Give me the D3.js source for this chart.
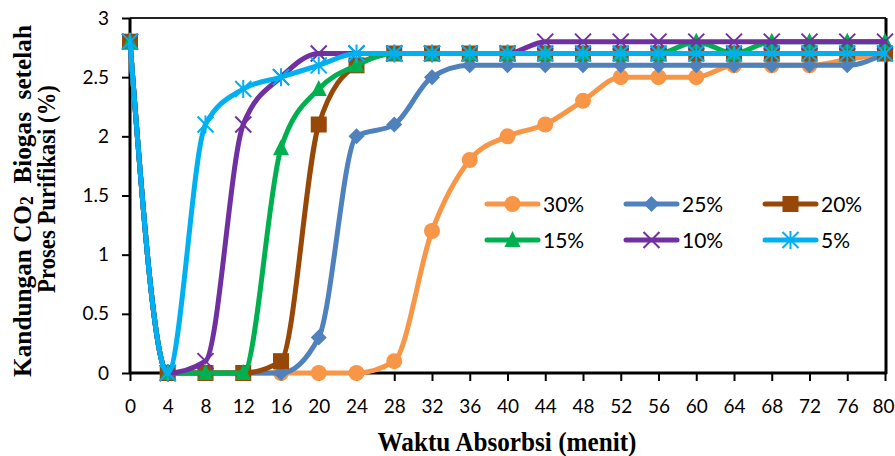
<!DOCTYPE html>
<html>
<head>
<meta charset="utf-8">
<script src="https://cdn.jsdelivr.net/npm/d3@7"></script>
<style>
  body { margin: 0; background: #fff; }
  .tick text { font-family: Lato, "Open Sans", sans-serif; font-size: 19px; fill: #000; }
</style>
</head>
<body>
<div id="chart"></div>
<script>
// time in minutes
const minutes = [0, 4, 8, 12, 16, 20, 24, 28, 32, 36, 40, 44, 48, 52, 56, 60, 64, 68, 72, 76, 80];

// CO2 content (%) per concentration
const co2_30 = [2.8, 0, 0, 0, 0, 0, 0, 0.1, 1.2, 1.8, 2.0, 2.1, 2.3, 2.5, 2.5, 2.5, 2.6, 2.6, 2.6, 2.65, 2.7];
const co2_25 = [2.8, 0, 0, 0, 0, 0.3, 2.0, 2.1, 2.5, 2.6, 2.6, 2.6, 2.6, 2.6, 2.6, 2.6, 2.6, 2.6, 2.6, 2.6, 2.7];
const co2_20 = [2.8, 0, 0, 0, 0.1, 2.1, 2.6, 2.7, 2.7, 2.7, 2.7, 2.7, 2.7, 2.7, 2.7, 2.7, 2.7, 2.7, 2.7, 2.7, 2.7];
const co2_15 = [2.8, 0, 0, 0, 1.9, 2.4, 2.6, 2.7, 2.7, 2.7, 2.7, 2.7, 2.7, 2.7, 2.7, 2.8, 2.7, 2.8, 2.8, 2.8, 2.8];
const co2_10 = [2.8, 0, 0.1, 2.1, 2.5, 2.7, 2.7, 2.7, 2.7, 2.7, 2.7, 2.8, 2.8, 2.8, 2.8, 2.8, 2.8, 2.8, 2.8, 2.8, 2.8];
const co2_5  = [2.8, 0, 2.1, 2.4, 2.5, 2.6, 2.7, 2.7, 2.7, 2.7, 2.7, 2.7, 2.7, 2.7, 2.7, 2.7, 2.7, 2.7, 2.7, 2.7, 2.7];

const seriesNames = ["30%", "25%", "20%", "15%", "10%", "5%"];
const yTicks = [0, 0.5, 1, 1.5, 2, 2.5, 3];

const series = [
  { name: seriesNames[0], values: co2_30, color: "#F79646", marker: "circle" },
  { name: seriesNames[1], values: co2_25, color: "#4F81BD", marker: "diamond" },
  { name: seriesNames[2], values: co2_20, color: "#974706", marker: "square" },
  { name: seriesNames[3], values: co2_15, color: "#00B050", marker: "triangle" },
  { name: seriesNames[4], values: co2_10, color: "#7030A0", marker: "x" },
  { name: seriesNames[5], values: co2_5,  color: "#00B0F0", marker: "star" }
];

const W = 895, H = 456;
const svg = d3.select("#chart").append("svg")
    .attr("width", W)
    .attr("height", H);

const x = d3.scaleLinear().domain([0, 80]).range([130, 885]);
const y = d3.scaleLinear().domain([0, 3]).range([373, 18]);

// frame
svg.append("line").attr("x1", 130).attr("x2", 886).attr("y1", 18).attr("y2", 18)
    .attr("stroke", "#222").attr("stroke-width", 2);
svg.append("line").attr("x1", 886).attr("x2", 886).attr("y1", 18).attr("y2", 374)
    .attr("stroke", "#000").attr("stroke-width", 3);

// axes
const xAxis = svg.append("g")
    .attr("transform", `translate(0,${y(0)})`)
    .call(d3.axisBottom(x).tickValues(minutes).tickSize(8).tickPadding(19).tickFormat(d3.format("d")));
const yAxis = svg.append("g")
    .attr("transform", `translate(${x(0)},0)`)
    .call(d3.axisLeft(y).tickValues(yTicks).tickSize(8).tickPadding(13).tickFormat(d => d));
[xAxis, yAxis].forEach(a => {
  a.select(".domain").attr("stroke", "#000").attr("stroke-width", 3);
  a.selectAll(".tick line").attr("stroke", "#000").attr("stroke-width", 2);
});
xAxis.select(".domain").attr("d", `M${x(0) - 1},0H${x(80) + 2}`);
yAxis.select(".domain").attr("d", `M0,${y(0) + 1}V${y(3)}`);
// last label sits against the right edge
xAxis.selectAll(".tick text").filter(d => d === 80).attr("dx", -2);

// marker drawing
function drawMarker(g, type, color, cx, cy) {
  if (type === "circle") {
    g.append("circle").attr("cx", cx).attr("cy", cy).attr("r", 8).attr("fill", color);
  } else if (type === "diamond") {
    g.append("path").attr("d", `M${cx},${cy - 8}L${cx + 8},${cy}L${cx},${cy + 8}L${cx - 8},${cy}Z`).attr("fill", color);
  } else if (type === "square") {
    g.append("rect").attr("x", cx - 8).attr("y", cy - 8).attr("width", 16).attr("height", 16).attr("fill", color);
  } else if (type === "triangle") {
    g.append("path").attr("d", `M${cx},${cy - 9}L${cx + 8},${cy + 7}L${cx - 8},${cy + 7}Z`).attr("fill", color);
  } else if (type === "x") {
    g.append("path").attr("d", `M${cx - 8},${cy - 8}L${cx + 8},${cy + 8}M${cx + 8},${cy - 8}L${cx - 8},${cy + 8}`)
      .attr("stroke", color).attr("stroke-width", 2);
  } else if (type === "star") {
    g.append("path").attr("d", `M${cx - 8},${cy - 8}L${cx + 8},${cy + 8}M${cx + 8},${cy - 8}L${cx - 8},${cy + 8}M${cx},${cy - 9}V${cy + 9}`)
      .attr("stroke", color).attr("stroke-width", 2);
  }
}

const line = d3.line()
    .x((d, i) => x(minutes[i]))
    .y(d => y(d))
    .curve(d3.curveMonotoneX);

series.forEach(s => {
  const g = svg.append("g");
  g.append("path")
    .attr("d", line(s.values))
    .attr("fill", "none")
    .attr("stroke", s.color)
    .attr("stroke-width", 5)
    .attr("stroke-linecap", "round");
  s.values.forEach((v, i) => drawMarker(g, s.marker, s.color, x(minutes[i]), y(v)));
});

// legend
const legendCols = [487, 626, 765];
const legendRows = [204, 240];
series.forEach((s, i) => {
  const lx = legendCols[i % 3], ly = legendRows[Math.floor(i / 3)];
  const g = svg.append("g");
  g.append("line").attr("x1", lx).attr("x2", lx + 51).attr("y1", ly).attr("y2", ly)
    .attr("stroke", s.color).attr("stroke-width", 5).attr("stroke-linecap", "round");
  drawMarker(g, s.marker, s.color, lx + 25.5, ly);
  g.append("text").attr("x", lx + 56).attr("y", ly + 8)
    .attr("font-family", "Lato, 'Open Sans', sans-serif").attr("font-size", 21)
    .text(s.name);
});

// axis titles, squeezed to the width they take in the original
function fitText(t, cx, cy, rot, len) {
  const w = t.node().getComputedTextLength();
  t.attr("transform", `translate(${cx},${cy}) rotate(${rot}) scale(${len / w},1)`);
}
const serif = "'Liberation Serif', 'Times New Roman', serif";

const xTitle = svg.append("text")
    .attr("text-anchor", "middle")
    .attr("font-family", serif)
    .attr("font-weight", "bold").attr("font-size", 27)
    .text("Waktu Absorbsi (menit)");
fitText(xTitle, 507, 451, 0, 259);

const yTitle = svg.append("text")
    .attr("text-anchor", "middle")
    .attr("font-family", serif)
    .attr("font-weight", "bold").attr("font-size", 26);
yTitle.append("tspan").text("Kandungan CO");
yTitle.append("tspan").attr("font-size", 18).attr("dy", 2).text("2");
yTitle.append("tspan").attr("dy", -2).text("\u00a0 Biogas\u00a0 setelah");
fitText(yTitle, 31, 201, -90, 352);

const yTitle2 = svg.append("text")
    .attr("text-anchor", "middle")
    .attr("font-family", serif)
    .attr("font-weight", "bold").attr("font-size", 26)
    .text("Proses Purifikasi (%)");
fitText(yTitle2, 55, 189, -90, 208);
</script>
</body>
</html>
